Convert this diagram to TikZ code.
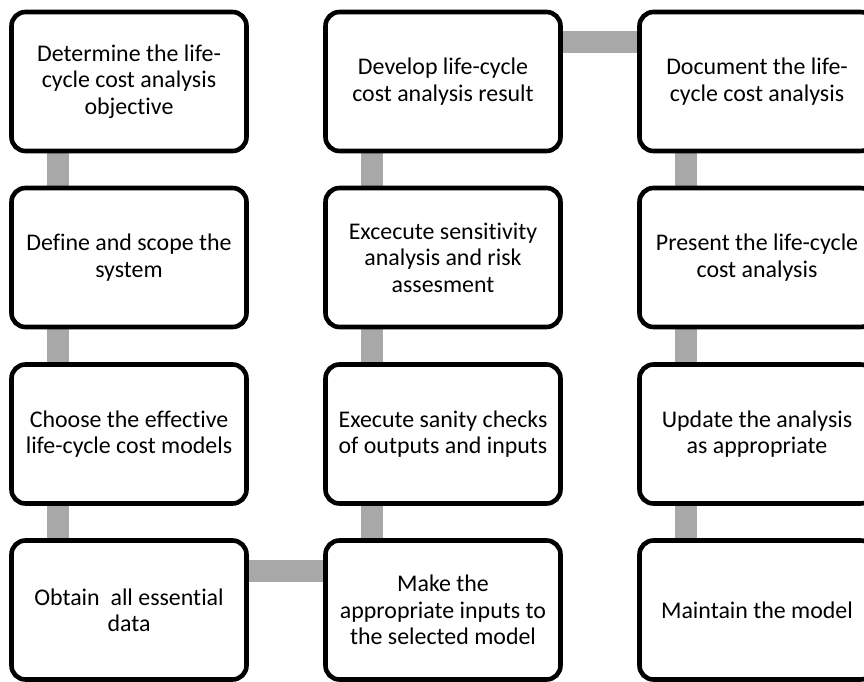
\documentclass[tikz,border=0pt]{standalone}
\usepackage{fontspec}
\setmainfont[Ligatures=NoCommon]{Carlito}
\usetikzlibrary{backgrounds}
\definecolor{linkgray}{RGB}{168,168,168}
\begin{document}
\begin{tikzpicture}[x=1bp,y=-1bp,
  stepbox/.style={draw=black,line width=4.6bp,fill=white,rounded corners=14bp,
    minimum width=235bp,minimum height=139bp,inner sep=0pt,align=center,
    font=\fontsize{24}{26.5}\selectfont},
  link/.style={draw=linkgray,line width=22bp,line cap=butt}]
\useasboundingbox (0,0) rectangle (864,682);
\clip (0,0) rectangle (864,682);
% first column
\node[stepbox] (a1) at (129,81.5) {Determine the life-\\cycle cost analysis\\objective};
\node[stepbox] (a2) at (129,257.5) {Define and scope the\\system};
\node[stepbox] (a3) at (129,434) {Choose the effective\\life-cycle cost models};
\node[stepbox] (a4) at (129,610) {Obtain~ all essential\\data};
% second column
\node[stepbox] (b4) at (443,610) {Make the\\appropriate inputs to\\the selected model};
\node[stepbox] (b3) at (443,434) {Execute sanity checks\\of outputs and inputs};
\node[stepbox] (b2) at (443,257.5) {Excecute sensitivity\\analysis and risk\\assesment};
\node[stepbox] (b1) at (443,81.5) {Develop life-cycle\\cost analysis result};
% third column
\node[stepbox] (c1) at (757,81.5) {Document the life-\\cycle cost analysis};
\node[stepbox] (c2) at (757,257.5) {Present the life-cycle\\cost analysis};
\node[stepbox] (c3) at (757,434) {Update the analysis\\as appropriate};
\node[stepbox] (c4) at (757,610) {Maintain the model};
% connecting bars behind the boxes
\begin{scope}[on background layer]
  \foreach \u/\v in {a1/a2,a2/a3,a3/a4,b4/b3,b3/b2,b2/b1,c1/c2,c2/c3,c3/c4}{
    \draw[link] ([xshift=48.5bp]\u.south west) -- ([xshift=48.5bp]\v.north west);
  }
  \draw[link] ([yshift=-32.5bp]a4.north east) -- ([yshift=-32.5bp]b4.north west);
  \draw[link] ([yshift=-32.5bp]b1.north east) -- ([yshift=-32.5bp]c1.north west);
\end{scope}
\end{tikzpicture}
\end{document}
